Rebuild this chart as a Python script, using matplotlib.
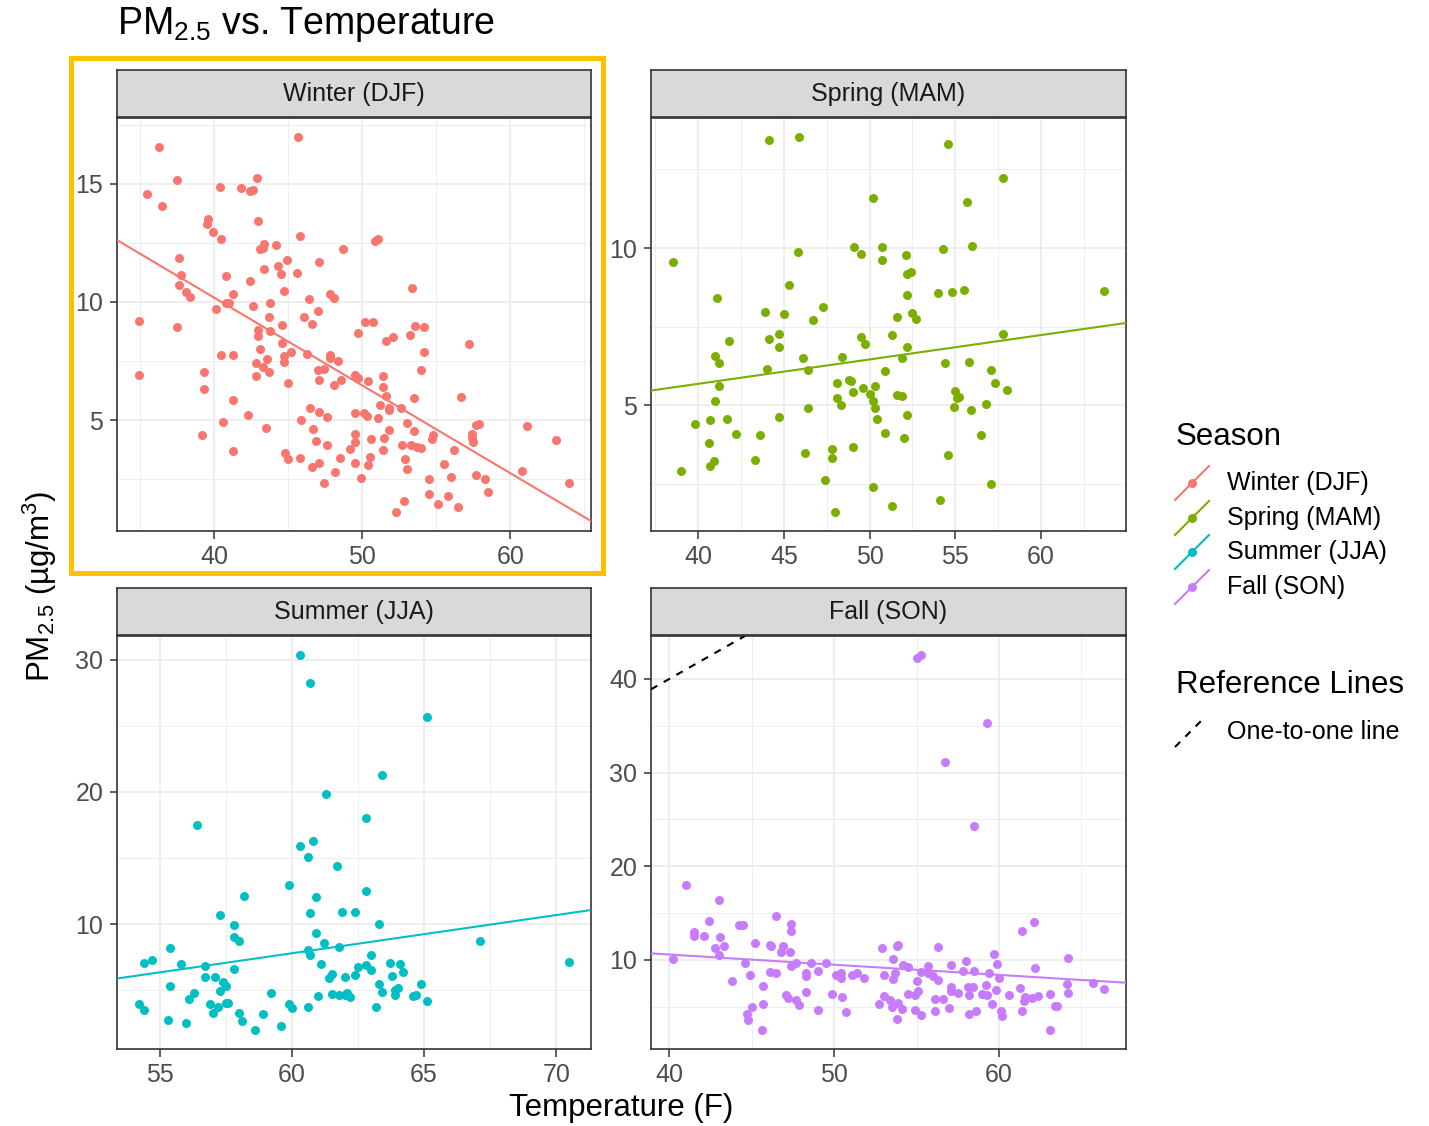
import numpy as np
import matplotlib
matplotlib.use("Agg")
import matplotlib.pyplot as plt
from matplotlib.ticker import MultipleLocator
from matplotlib.patches import Rectangle

plt.rcParams['font.family'] = ['Liberation Sans', 'DejaVu Sans']
plt.rcParams['mathtext.fontset'] = 'custom'
plt.rcParams['mathtext.rm'] = 'Liberation Sans'
plt.rcParams['mathtext.it'] = 'Liberation Sans:italic'

seasons = ["Winter (DJF)", "Spring (MAM)", "Summer (JJA)", "Fall (SON)"]
season_colors = ["#F8766D", "#7CAE00", "#00BFC4", "#C77CFF"]

winter_temp = [36.3, 45.7, 35.5, 36.5, 37.5, 40.4, 41.8, 42.4, 42.6, 42.9,
               39.6, 39.5, 39.9, 40.5, 43.0, 43.4, 43.3, 43.1, 44.2, 45.8,
               48.7, 50.9, 51.1, 37.6, 37.8, 37.6, 38.1, 38.4, 40.8, 43.4,
               44.3, 44.5, 44.9, 45.6, 47.1, 42.4, 41.3, 40.8, 41.0, 40.1,
               42.6, 43.8, 44.7, 43.7, 44.6, 43.8, 43.0, 43.0, 46.4, 46.1,
               46.6, 47.0, 47.8, 48.1, 53.4, 34.9, 37.5, 34.9, 50.2, 50.7,
               49.7, 51.6, 52.1, 53.2, 53.6, 54.2, 54.2, 54.0, 57.2, 40.5,
               41.3, 43.1, 43.6, 42.8, 43.3, 43.7, 42.8, 44.6, 44.7, 45.2,
               44.7, 46.3, 47.8, 47.8, 48.4, 47.0, 47.4, 47.1, 48.1, 48.6,
               49.5, 49.7, 50.4, 45.0, 39.3, 39.3, 41.3, 40.6, 39.2, 41.3,
               42.3, 43.5, 46.5, 47.1, 47.6, 45.9, 46.7, 46.9, 47.6, 49.5,
               50.1, 50.3, 51.1, 51.4, 51.4, 51.6, 51.2, 51.8, 51.8, 52.6,
               53.5, 53.0, 53.5, 51.8, 49.5, 49.5, 50.6, 51.5, 51.4, 52.7,
               53.3, 53.7, 54.0, 54.7, 54.8, 56.2, 56.7, 57.4, 57.4, 57.5,
               57.7, 57.9, 61.1, 63.1, 64.0, 60.8, 57.7, 58.3, 58.5, 55.5,
               56.0, 54.5, 54.5, 55.1, 55.8, 56.5, 52.8, 52.3, 52.9, 53.0,
               49.9, 50.4, 50.5, 49.5, 49.2, 48.5, 48.2, 47.4, 46.6, 47.1,
               45.8, 44.8, 45.0]
winter_pm = [16.57, 16.99, 14.58, 14.06, 15.14, 14.87, 14.83, 14.68, 14.73, 15.25,
             13.53, 13.29, 12.98, 12.67, 13.44, 12.47, 12.29, 12.22, 12.43, 12.78,
             12.26, 12.57, 12.68, 11.88, 11.14, 10.72, 10.44, 10.22, 11.11, 11.40,
             11.53, 11.17, 11.78, 11.21, 11.70, 10.87, 10.34, 9.97, 9.97, 9.70,
             9.83, 9.94, 10.46, 9.37, 9.03, 8.78, 8.82, 8.54, 10.11, 9.37,
             9.06, 9.62, 10.34, 10.15, 10.60, 9.19, 8.93, 6.91, 9.14, 9.14,
             8.67, 8.33, 8.51, 8.58, 8.99, 8.92, 7.88, 7.13, 8.22, 7.77,
             7.75, 7.99, 7.60, 7.42, 7.25, 7.02, 6.85, 8.26, 7.71, 7.88,
             7.44, 7.79, 7.74, 7.63, 7.49, 7.13, 7.18, 6.69, 6.50, 6.71,
             6.90, 6.76, 6.64, 6.57, 7.02, 6.32, 5.87, 4.92, 4.35, 3.69,
             5.21, 4.68, 5.49, 5.35, 5.15, 5.01, 4.61, 4.12, 3.95, 5.31,
             5.28, 5.17, 5.10, 6.87, 6.39, 6.01, 5.62, 5.52, 5.41, 5.52,
             5.93, 4.86, 4.52, 4.59, 4.42, 4.09, 4.19, 4.26, 3.72, 3.95,
             3.95, 3.88, 3.81, 4.19, 4.37, 3.72, 5.99, 4.42, 4.23, 4.07,
             4.79, 4.83, 4.75, 4.17, 2.35, 2.85, 2.68, 2.50, 1.97, 3.16,
             2.61, 2.50, 1.87, 1.43, 1.78, 1.33, 1.59, 1.10, 3.34, 2.92,
             2.54, 3.10, 3.45, 3.19, 3.78, 3.39, 2.82, 2.35, 3.02, 3.17,
             3.41, 3.62, 3.34]

spring_temp = [44.1, 45.9, 54.6, 57.8, 50.2, 55.7, 56.0, 54.3, 38.5, 45.8,
               49.1, 49.5, 50.7, 50.7, 52.1, 52.2, 52.4, 52.2, 54.0, 54.8,
               55.5, 63.7, 41.1, 45.3, 47.3, 46.7, 43.9, 45.0, 51.6, 52.5,
               52.7, 41.8, 41.0, 41.2, 44.1, 44.7, 44.7, 44.0, 46.1, 46.4,
               48.4, 49.5, 49.7, 51.3, 52.2, 51.9, 57.8, 50.9, 54.4, 55.8,
               57.1, 41.2, 41.0, 48.1, 48.8, 48.9, 49.0, 48.1, 48.3, 49.6,
               50.0, 50.2, 50.3, 50.3, 50.4, 51.6, 51.9, 52.2, 50.9, 52.0,
               55.0, 55.2, 55.1, 54.9, 55.9, 57.3, 58.0, 56.8, 56.5, 54.6,
               57.1, 54.1, 51.3, 50.2, 48.0, 47.4, 47.8, 47.8, 49.0, 46.2,
               46.4, 44.7, 43.6, 43.3, 42.2, 41.7, 40.7, 39.8, 40.6, 40.9,
               40.7, 39.0]
spring_pm = [13.44, 13.54, 13.31, 12.22, 11.59, 11.48, 10.08, 9.96, 9.57, 9.86,
             10.03, 9.82, 10.02, 9.61, 9.77, 9.19, 9.24, 8.51, 8.57, 8.60,
             8.68, 8.64, 8.40, 8.83, 8.12, 7.71, 7.96, 7.91, 7.81, 7.93,
             7.73, 7.03, 6.57, 6.34, 7.12, 7.26, 6.84, 6.17, 6.50, 6.12,
             6.54, 7.16, 6.96, 7.23, 6.85, 6.51, 7.28, 6.08, 6.35, 6.37,
             6.11, 5.61, 5.13, 5.70, 5.82, 5.76, 5.43, 5.22, 5.02, 5.54,
             5.37, 5.13, 5.61, 4.91, 4.55, 5.32, 5.31, 4.68, 4.11, 3.95,
             5.45, 5.27, 5.24, 4.96, 4.85, 5.72, 5.49, 5.05, 4.05, 3.43,
             2.50, 2.00, 1.80, 2.39, 1.60, 2.63, 3.61, 3.34, 3.69, 3.47,
             4.92, 4.62, 4.05, 3.25, 4.08, 4.57, 4.53, 4.42, 3.81, 3.23,
             3.08, 2.91]

summer_temp = [60.3, 60.7, 65.1, 63.4, 61.3, 62.8, 56.4, 60.3, 60.8, 60.6,
               61.7, 59.9, 62.8, 60.9, 58.2, 57.3, 60.7, 61.9, 62.4, 57.8,
               57.8, 58.0, 63.3, 60.9, 61.2, 61.8, 60.6, 60.7, 67.1, 70.5,
               55.4, 54.4, 54.7, 55.8, 56.7, 57.8, 56.7, 57.1, 57.4, 57.5,
               57.3, 55.4, 56.3, 56.1, 54.2, 54.4, 55.3, 56.0, 56.9, 57.0,
               57.2, 57.5, 57.6, 58.0, 58.1, 58.6, 58.9, 59.2, 59.6, 59.9,
               60.0, 60.6, 61.0, 61.1, 61.4, 61.5, 61.5, 61.8, 62.0, 62.1,
               62.2, 62.0, 62.4, 62.5, 62.8, 63.0, 63.0, 63.2, 63.3, 63.4,
               63.7, 63.8, 64.1, 64.2, 63.9, 64.0, 63.9, 64.6, 64.7, 64.9,
               65.1]
summer_pm = [30.38, 28.27, 25.64, 21.25, 19.85, 18.02, 17.47, 15.91, 16.29, 15.09,
             14.41, 12.93, 12.53, 12.08, 12.11, 10.68, 10.88, 10.95, 10.95, 9.92,
             9.02, 8.75, 10.05, 9.37, 8.55, 8.30, 8.05, 7.64, 8.70, 7.12,
             8.22, 7.04, 7.29, 6.99, 6.82, 6.59, 6.04, 5.99, 5.66, 5.36,
             4.94, 5.29, 4.79, 4.31, 3.93, 3.53, 2.78, 2.53, 3.98, 3.28,
             3.71, 4.03, 4.03, 3.28, 2.66, 1.98, 3.23, 4.81, 2.31, 3.98,
             3.68, 3.73, 4.54, 7.02, 5.96, 6.22, 4.69, 4.61, 4.61, 4.79,
             4.49, 5.99, 6.12, 6.74, 6.94, 7.67, 6.57, 3.71, 5.49, 4.86,
             7.07, 6.09, 6.99, 6.42, 4.99, 5.16, 4.66, 4.56, 4.61, 5.49,
             4.21]

fall_temp = [55.0, 55.3, 59.3, 56.7, 58.5, 41.0, 43.0, 42.4, 41.5, 41.5,
             42.1, 43.1, 42.8, 43.3, 43.0, 40.2, 44.2, 44.5, 46.5, 47.4,
             47.4, 45.2, 46.1, 46.2, 46.9, 46.8, 47.3, 44.6, 43.8, 44.9,
             46.1, 46.5, 45.7, 47.4, 47.7, 48.3, 48.3, 48.6, 49.0, 49.5,
             50.1, 50.4, 50.4, 51.1, 51.4, 51.8, 47.1, 47.2, 48.3, 47.7,
             47.9, 49.0, 49.9, 50.5, 50.7, 45.7, 45.0, 44.7, 44.8, 45.6,
             52.9, 53.8, 53.9, 53.6, 56.3, 53.0, 53.7, 53.6, 54.2, 54.5,
             55.0, 55.3, 55.7, 55.7, 56.0, 56.3, 57.1, 58.0, 57.8, 58.5,
             59.7, 59.9, 59.4, 60.0, 59.2, 59.8, 57.1, 57.1, 57.5, 58.1,
             58.4, 58.2, 59.0, 59.3, 59.6, 52.7, 53.0, 53.4, 53.9, 53.5,
             54.1, 53.8, 54.5, 54.9, 55.1, 54.9, 55.3, 56.1, 56.6, 56.1,
             57.0, 58.2, 58.6, 60.1, 60.2, 60.6, 61.4, 62.1, 61.3, 62.2,
             61.6, 61.5, 61.4, 62.0, 62.4, 63.1, 63.4, 63.5, 63.1, 64.2,
             64.1, 64.2, 65.7, 66.4]
fall_pm = [42.19, 42.58, 35.26, 31.08, 24.25, 17.98, 16.35, 14.16, 12.99, 12.57,
           12.57, 12.42, 11.22, 11.47, 10.51, 10.12, 13.70, 13.77, 14.65, 13.84,
           13.13, 11.75, 11.54, 11.47, 11.47, 10.80, 10.80, 9.70, 7.79, 8.39,
           8.74, 8.57, 7.19, 9.31, 9.66, 8.60, 8.25, 9.63, 8.81, 9.63,
           8.35, 8.57, 8.07, 8.42, 8.57, 8.04, 6.27, 5.95, 6.55, 5.66,
           5.13, 4.67, 6.37, 6.02, 4.42, 5.31, 4.96, 4.25, 3.54, 2.48,
           11.22, 11.43, 11.57, 10.09, 11.36, 8.35, 8.57, 7.96, 9.49, 9.20,
           7.72, 8.74, 9.31, 8.60, 8.25, 7.89, 9.45, 9.84, 8.85, 8.85,
           10.65, 9.59, 8.57, 8.04, 7.26, 6.80, 7.15, 6.65, 6.44, 7.08,
           7.08, 6.19, 6.37, 6.19, 5.31, 5.24, 6.09, 5.66, 5.38, 4.96,
           4.78, 3.65, 6.37, 6.19, 6.65, 4.67, 4.07, 5.77, 5.77, 4.50,
           4.88, 4.18, 4.50, 4.50, 3.96, 6.19, 13.10, 14.05, 7.01, 9.13,
           6.02, 5.56, 4.53, 5.91, 6.09, 6.30, 5.06, 5.03, 2.48, 10.23,
           7.43, 6.44, 7.50, 6.90]

temps = [winter_temp, spring_temp, summer_temp, fall_temp]
pms = [winter_pm, spring_pm, summer_pm, fall_pm]

# tick spacing per panel (x, y)
tick_steps = [(10, 5), (5, 5), (5, 10), (10, 10)]

W, H = 1429, 1126
fig = plt.figure(figsize=(W / 100, H / 100), dpi=100)


def px_box(left, top, right, bottom):
    return [left / W, 1 - bottom / H, (right - left) / W, (bottom - top) / H]


# panel rectangles in pixels: left, top, right, bottom
panel_px = [(117, 118, 591, 531), (651, 118, 1126, 531),
            (117, 636, 591, 1049), (651, 636, 1126, 1049)]

for i, season in enumerate(seasons):
    l, t, r, b = panel_px[i]
    ax = fig.add_axes(px_box(l, t, r, b))
    x = np.array(temps[i])
    y = np.array(pms[i])
    col = season_colors[i]
    ax.scatter(x, y, s=42, color=col, linewidths=0, zorder=3)
    ax.margins(0.05)
    xlim, ylim = ax.get_xlim(), ax.get_ylim()

    # lm fit across the full panel, plus the 1:1 reference
    slope, intercept = np.polyfit(x, y, 1)
    xm = x.mean()
    ax.axline((xm, intercept + slope * xm), slope=slope, color=col, lw=1.5, zorder=4)
    ax.axline((xm, xm), slope=1, color='black', lw=1.5, ls=(0, (3.5, 3.5)), zorder=4)
    ax.set_xlim(xlim)
    ax.set_ylim(ylim)

    xs, ys = tick_steps[i]
    ax.xaxis.set_major_locator(MultipleLocator(xs))
    ax.xaxis.set_minor_locator(MultipleLocator(xs / 2))
    ax.yaxis.set_major_locator(MultipleLocator(ys))
    ax.yaxis.set_minor_locator(MultipleLocator(ys / 2))
    ax.grid(which='major', color='#EBEBEB', lw=1.2)
    ax.grid(which='minor', color='#EBEBEB', lw=0.6)
    ax.set_axisbelow(True)
    ax.tick_params(which='major', direction='out', length=5.4, width=1.1,
                   color='#333333', labelsize=18, labelcolor='#4D4D4D', pad=4.5)
    ax.tick_params(which='minor', length=0)
    for sp in ax.spines.values():
        sp.set_color('#333333')
        sp.set_linewidth(1.2)

    # facet strip
    sax = fig.add_axes(px_box(l, t - 48, r, t - 1))
    sax.set_facecolor('#D9D9D9')
    sax.set_xticks([])
    sax.set_yticks([])
    for sp in sax.spines.values():
        sp.set_color('#333333')
        sp.set_linewidth(1.2)
    sax.text(0.5, 0.5, season, ha='center', va='center', size=18,
             color='#1A1A1A', transform=sax.transAxes)

fig.text(117 / W, 1 - 24 / H, "PM$_{2.5}$ vs. Temperature", ha='left', va='center', size=27)
fig.text(621 / W, 1 - 1108 / H, "Temperature (F)", ha='center', va='center', size=22.5)
fig.text(40 / W, 1 - 586 / H, "PM$_{2.5}$ (\u00b5g/m$^3$)", rotation=90,
         ha='center', va='center', size=22.5)

# overlay for legend and highlight box, in pixel coordinates
ov = fig.add_axes([0, 0, 1, 1])
ov.set_xlim(0, W)
ov.set_ylim(H, 0)
ov.axis('off')

ov.text(1176, 437, "Season", ha='left', va='center', size=22.5)
key_rows = [483, 518, 552, 587]
for season, col, cy in zip(seasons, season_colors, key_rows):
    ov.plot([1175, 1209], [cy + 17, cy - 17], color=col, lw=1.5)
    ov.scatter([1192], [cy], s=42, color=col, linewidths=0)
    ov.text(1227, cy, season, ha='left', va='center', size=18)

ov.text(1176, 685, "Reference Lines", ha='left', va='center', size=22.5)
ov.plot([1175, 1205], [747, 717], color='black', lw=1.5, ls=(0, (3.5, 3.5)))
ov.text(1227, 732, "One-to-one line", ha='left', va='center', size=18)

ov.add_patch(Rectangle((71.5, 57.5), 532, 515, fill=False,
                       edgecolor='#FFC000', lw=3.6, clip_on=False))

fig.savefig('out.png', dpi=100)
